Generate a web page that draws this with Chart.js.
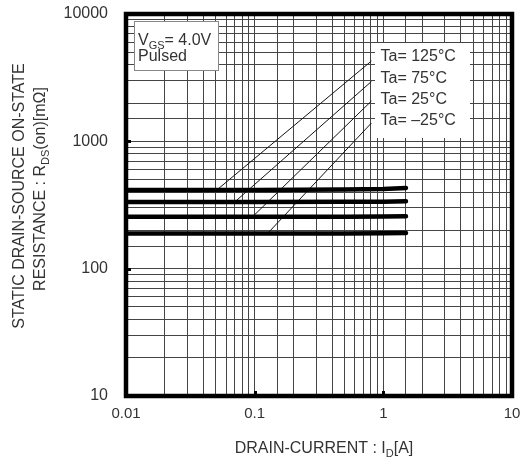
<!DOCTYPE html>
<html>
<head>
<meta charset="utf-8">
<script src="https://cdn.jsdelivr.net/npm/chart.js@4/dist/chart.umd.min.js"></script>
<style>
  html, body { margin: 0; padding: 0; background: #fff; }
  #rdsChart { display: block; }
</style>
</head>
<body>
<canvas id="rdsChart" width="523" height="468"></canvas>
<script>
"use strict";

// Drain current points [A] where the curves were read
const drainCurrent = [0.01, 0.1, 0.5, 1.0, 1.5];

// On-resistance [mOhm] per ambient temperature
const temps = ['Ta= 125°C', 'Ta= 75°C', 'Ta= 25°C', 'Ta= –25°C'];
const rds125 = [414, 415, 418, 422, 430];
const rds75 = [334, 334, 335, 336, 338];
const rds25 = [256, 256, 256, 257, 258];
const rdsM25 = [189, 189, 189, 190, 191];

// Leader lines from each label down to its curve: [curve end, label end]
const leaderX = [[0.051, 0.808], [0.070, 0.808], [0.0964, 0.808], [0.126, 0.808]];
const leaderY = [[416, 4275], [334, 2950], [256, 2073], [189, 1393]];

// Axis labels
const xTicks = [0.01, 0.1, 1, 10];
const xTickLabels = ['0.01', '0.1', '1', '10'];
const yTicks = [10, 100, 1000, 10000];
const yTickLabels = ['10', '100', '1000', '10000'];

const FONT = "'Liberation Sans', Arial, sans-serif";
const TEXT = '#333';

function labelFor(value, ticks, labels) {
    for (let i = 0; i < ticks.length; i++) {
        if (Math.abs(value - ticks[i]) / ticks[i] < 1e-6) return labels[i];
    }
    return '';
}

const curveSets = [rds125, rds75, rds25, rdsM25].map((vals, i) => ({
    label: temps[i],
    data: drainCurrent.map((x, j) => ({ x: x, y: vals[j] })),
    borderColor: '#000',
    borderWidth: 4.5,
    borderCapStyle: 'round',
    pointRadius: 0,
    showLine: true,
    fill: false
}));

const leaderSets = leaderX.map((xs, i) => ({
    label: temps[i] + ' leader',
    data: xs.map((x, j) => ({ x: x, y: leaderY[i][j] })),
    borderColor: '#111',
    borderWidth: 1,
    pointRadius: 0,
    showLine: true,
    fill: false
}));

// draws text with a subscript part: parts = [[text, isSub], ...]
function subText(ctx, parts, x, y, size, align) {
    const subSize = Math.round(size * 0.7);
    let total = 0;
    parts.forEach(p => {
        ctx.font = (p[1] ? subSize : size) + 'px ' + FONT;
        total += ctx.measureText(p[0]).width;
    });
    let cx = align === 'center' ? x - total / 2 : x;
    ctx.textAlign = 'left';
    ctx.textBaseline = 'alphabetic';
    parts.forEach(p => {
        ctx.font = (p[1] ? subSize : size) + 'px ' + FONT;
        ctx.fillText(p[0], cx, y + (p[1] ? 4 : 0));
        cx += ctx.measureText(p[0]).width;
    });
}

const decorations = {
    id: 'decorations',
    beforeDatasetsDraw(chart) {
        const ctx = chart.ctx;
        ctx.save();
        // label boxes sit on top of the grid
        ctx.fillStyle = '#fff';
        ctx.fillRect(375, 43, 95, 95);
        ctx.fillRect(135, 21, 84, 50);
        ctx.strokeStyle = '#888';
        ctx.lineWidth = 1;
        ctx.strokeRect(134.5, 21.5, 84, 49);
        ctx.restore();
    },
    afterDatasetsDraw(chart) {
        const ctx = chart.ctx;
        const a = chart.chartArea;
        const xs = chart.scales.x, ys = chart.scales.y;
        ctx.save();
        // thick frame
        ctx.strokeStyle = '#000';
        ctx.lineWidth = 4.5;
        ctx.strokeRect(a.left, a.top, a.right - a.left, a.bottom - a.top);
        // small inner tick marks at decades
        ctx.fillStyle = '#000';
        [0.1, 1].forEach(v => {
            const px = Math.round(xs.getPixelForValue(v));
            ctx.fillRect(px - 1, a.bottom - 5, 3, 3);
        });
        [100, 1000].forEach(v => {
            const py = Math.round(ys.getPixelForValue(v));
            ctx.fillRect(a.left + 2, py - 1, 3, 3);
        });

        ctx.fillStyle = TEXT;
        // temperature labels
        ctx.font = '16px ' + FONT;
        ctx.textAlign = 'left';
        ctx.textBaseline = 'alphabetic';
        const base = [61, 82.5, 103.5, 124.5];
        temps.forEach((t, i) => ctx.fillText(t, 380.5, base[i]));

        // condition box
        subText(ctx, [['V', false], ['GS', true], ['= 4.0V', false]], 138, 44.5, 16, 'left');
        ctx.font = '16px ' + FONT;
        ctx.fillText('Pulsed', 138, 60.5);

        // x axis title
        subText(ctx, [['DRAIN-CURRENT : I', false], ['D', true], ['[A]', false]], 324, 452.5, 16, 'center');

        // y axis title (two lines, rotated)
        ctx.save();
        ctx.translate(23.5, 196);
        ctx.rotate(-Math.PI / 2);
        ctx.font = '16px ' + FONT;
        ctx.textAlign = 'center';
        ctx.fillText('STATIC DRAIN-SOURCE ON-STATE', 0, 0);
        ctx.restore();
        ctx.save();
        ctx.translate(45, 189);
        ctx.rotate(-Math.PI / 2);
        subText(ctx, [['RESISTANCE : R', false], ['DS', true], ['(on)[mΩ]', false]], 0, 0, 16, 'center');
        ctx.restore();
        ctx.restore();
    }
};

new Chart(document.getElementById('rdsChart'), {
    type: 'scatter',
    data: { datasets: curveSets.concat(leaderSets) },
    options: {
        responsive: false,
        animation: false,
        devicePixelRatio: 1,
        layout: { padding: { top: 14, right: 11, left: 0, bottom: 0 } },
        plugins: { legend: { display: false }, tooltip: { enabled: false } },
        scales: {
            x: {
                type: 'logarithmic',
                min: 0.01,
                max: 10,
                border: { display: false },
                grid: { color: '#444', lineWidth: 1, drawTicks: false },
                ticks: {
                    autoSkip: false,
                    maxRotation: 0,
                    padding: 9,
                    color: TEXT,
                    font: { family: FONT, size: 15 },
                    callback: v => labelFor(v, xTicks, xTickLabels)
                },
                afterFit: s => {
                    s.height = 72;
                    s.paddingLeft = 0;
                    s.paddingRight = 0;
                }
            },
            y: {
                type: 'logarithmic',
                min: 10,
                max: 10000,
                border: { display: false },
                grid: { color: '#444', lineWidth: 1, drawTicks: false },
                ticks: {
                    autoSkip: false,
                    padding: 18,
                    color: TEXT,
                    font: { family: FONT, size: 16 },
                    callback: v => labelFor(v, yTicks, yTickLabels)
                },
                afterFit: s => {
                    s.width = 126;
                    s.paddingTop = 0;
                    s.paddingBottom = 0;
                }
            }
        }
    },
    plugins: [decorations]
});
</script>
</body>
</html>
